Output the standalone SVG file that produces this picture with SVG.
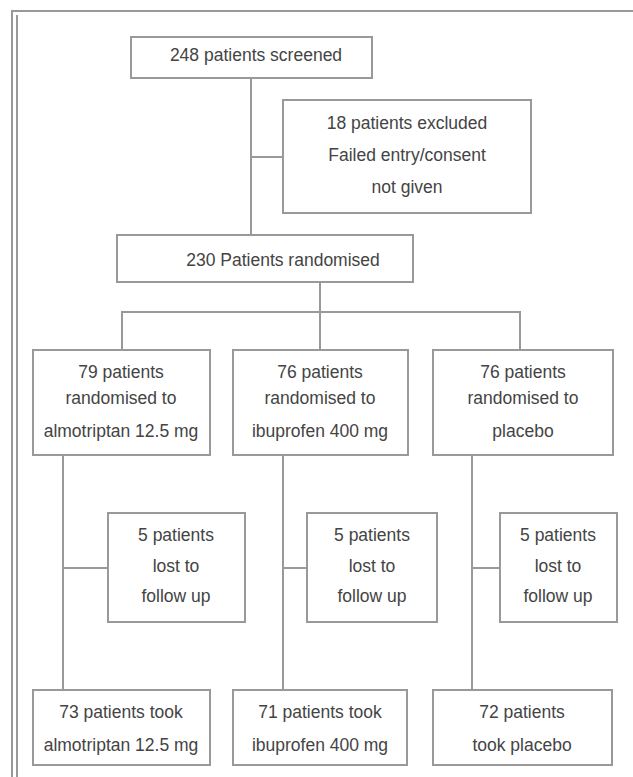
<svg xmlns="http://www.w3.org/2000/svg" width="633" height="777" viewBox="0 0 633 777">
<style>
.box{fill:#fff;stroke:#999;stroke-width:2}
.ln{stroke:#999;stroke-width:2;fill:none}
text{font-family:"Liberation Sans",Arial,sans-serif;font-size:17.5px;fill:#444;text-anchor:middle}
</style>
<rect x="0" y="0" width="633" height="777" fill="#fff"/>
<path class="ln" d="M12,777 V11 H633"/>
<path class="ln" d="M17,777 V15" stroke-width="1"/>
<g id="connectors">
<path class="ln" d="M251,78 V235"/>
<path class="ln" d="M251,157 H283"/>
<path class="ln" d="M320,282 V312"/>
<path class="ln" d="M122,350 V312 H520 V350"/>
<path class="ln" d="M320,312 V350"/>
<path class="ln" d="M63,455 V690"/>
<path class="ln" d="M63,568 H108"/>
<path class="ln" d="M283,455 V690"/>
<path class="ln" d="M283,568 H307"/>
<path class="ln" d="M472,455 V690"/>
<path class="ln" d="M472,568 H500"/>
</g>
<g id="screened"><rect class="box" x="131" y="37" width="241" height="41"/><text x="256" y="61">248 patients screened</text></g>
<g id="excluded"><rect class="box" x="283" y="100" width="248" height="113"/>
<text x="407" y="129">18 patients excluded</text><text x="407" y="161">Failed entry/consent</text><text x="407" y="193">not given</text></g>
<g id="randomised"><rect class="box" x="117" y="235" width="296" height="47"/><text x="283" y="266">230 Patients randomised</text></g>
<g id="groupA"><rect class="box" x="33" y="350" width="177" height="105"/>
<text x="121" y="378">79 patients</text><text x="121" y="404">randomised to</text><text x="121" y="437">almotriptan 12.5 mg</text></g>
<g id="groupB"><rect class="box" x="233" y="350" width="175" height="105"/>
<text x="320" y="378">76 patients</text><text x="320" y="404">randomised to</text><text x="320" y="437">ibuprofen 400 mg</text></g>
<g id="groupC"><rect class="box" x="433" y="350" width="180" height="105"/>
<text x="523" y="378">76 patients</text><text x="523" y="404">randomised to</text><text x="523" y="437">placebo</text></g>
<g id="lostA"><rect class="box" x="108" y="513" width="137" height="109"/>
<text x="176" y="541">5 patients</text><text x="176" y="572">lost to</text><text x="176" y="602">follow up</text></g>
<g id="lostB"><rect class="box" x="307" y="513" width="130" height="109"/>
<text x="372" y="541">5 patients</text><text x="372" y="572">lost to</text><text x="372" y="602">follow up</text></g>
<g id="lostC"><rect class="box" x="500" y="513" width="117" height="109"/>
<text x="558" y="541">5 patients</text><text x="558" y="572">lost to</text><text x="558" y="602">follow up</text></g>
<g id="finalA"><rect class="box" x="33" y="690" width="177" height="75"/>
<text x="121" y="718">73 patients took</text><text x="121" y="751">almotriptan 12.5 mg</text></g>
<g id="finalB"><rect class="box" x="233" y="690" width="174" height="75"/>
<text x="320" y="718">71 patients took</text><text x="320" y="751">ibuprofen 400 mg</text></g>
<g id="finalC"><rect class="box" x="433" y="690" width="179" height="75"/>
<text x="522" y="718">72 patients</text><text x="522" y="751">took placebo</text></g>
</svg>
